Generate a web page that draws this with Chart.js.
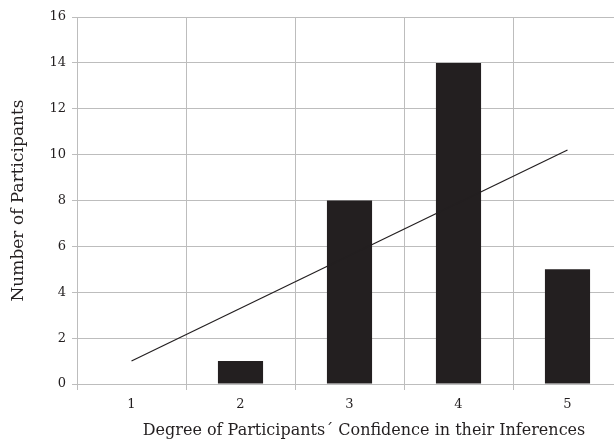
<!doctype html>
<html>
<head>
<title>Confidence in Inferences</title>
<style>
html, body {
  margin: 0;
  padding: 0;
  overflow: hidden;
  background: #fff;
}
.container {
  width: 630px;
  height: 444px;
}
</style>
</head>
<body>
<div class="container">
<canvas id="myChart"></canvas>
</div>

<script src="https://cdn.jsdelivr.net/npm/chart.js@4/dist/chart.umd.min.js"></script>
<script>

var labels = ['1', '2', '3', '4', '5'];
var participants = [0, 1, 8, 14, 5];
// trend line, read at both ends
var trend = [1.0, null, null, null, 10.2];
var yTitle = 'Number of Participants';
var xTitle = 'Degree of Participants\u00b4 Confidence in their Inferences';

var ink = '#231f20';
var gridGray = '#bdbdbd';
var font = 'DejaVu Serif';

// x title is drawn by hand, it sits a bit right of the plot centre
var xTitlePlugin = {
  id: 'xTitle',
  afterDraw: function(chart) {
    var ctx = chart.ctx;
    ctx.save();
    ctx.font = '16px "' + font + '"';
    ctx.fillStyle = ink;
    ctx.textAlign = 'center';
    ctx.textBaseline = 'middle';
    ctx.fillText(xTitle, 364, 431);
    ctx.restore();
  }
};

var ctx = document.getElementById('myChart').getContext('2d');
var myChart = new Chart(ctx, {
  type: 'bar',
  data: {
    labels: labels,
    datasets: [{
      type: 'line',
      data: trend,
      borderColor: ink,
      borderWidth: 1.2,
      pointRadius: 0,
      spanGaps: true,
      fill: false
    }, {
      data: participants,
      backgroundColor: ink,
      barPercentage: 0.414,
      categoryPercentage: 1.0
    }]
  },
  options: {
    responsive: true,
    maintainAspectRatio: false,
    animation: false,
    layout: { padding: { left: 0, top: 17, right: 8, bottom: 0 } },
    plugins: {
      legend: { display: false },
      tooltip: { enabled: false }
    },
    scales: {
      x: {
        afterFit: function(scale) { scale.height = 60; },
        grid: { color: gridGray, offset: true, tickLength: 6 },
        border: { color: gridGray },
        ticks: { color: ink, padding: 7, font: { family: font, size: 13 } }
      },
      y: {
        min: 0,
        max: 16,
        afterFit: function(scale) { scale.width = 77; },
        grid: { color: gridGray, tickLength: 5 },
        border: { color: gridGray },
        ticks: { stepSize: 2, color: ink, padding: 6, font: { family: font, size: 13 } },
        title: {
          display: true,
          text: yTitle,
          color: ink,
          font: { family: font, size: 17 },
          padding: { top: 8, bottom: 0 }
        }
      }
    }
  },
  plugins: [xTitlePlugin]
});

</script>
</body>
</html>
